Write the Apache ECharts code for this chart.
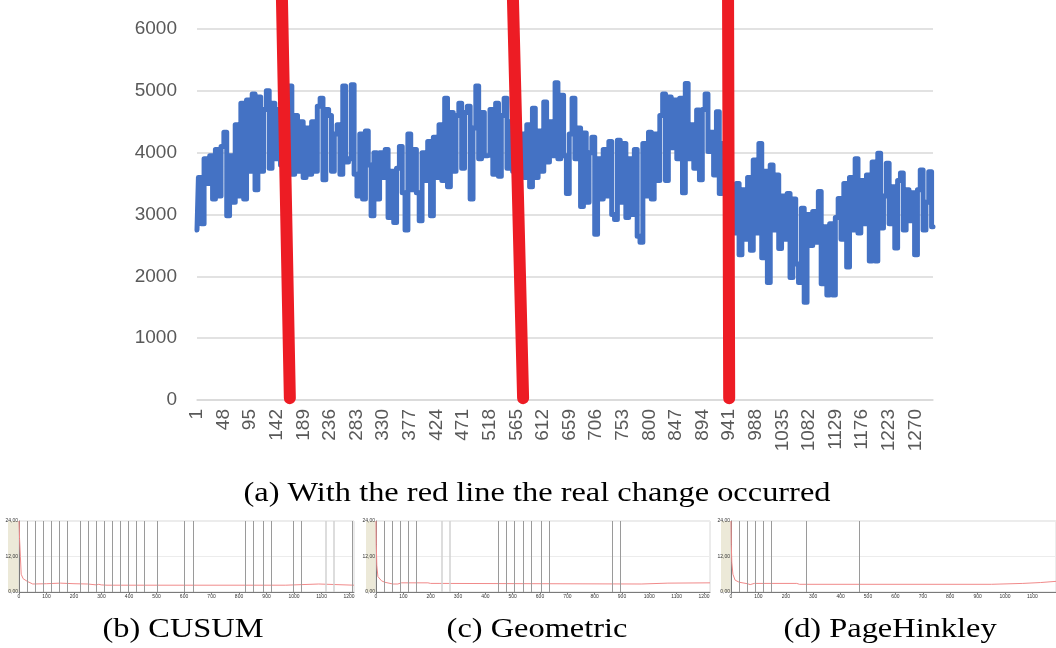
<!DOCTYPE html>
<html><head><meta charset="utf-8">
<script src="https://cdn.jsdelivr.net/npm/echarts@6/dist/echarts.min.js"></script>
<style>html,body{margin:0;padding:0;background:#fff}#c{width:1056px;height:648px}</style>
</head><body><div id="c"></div>
<script>
// ---------- data ----------
const pointCount = 1301;
const categories = [];
for (let i = 1; i <= pointCount; i++) categories.push(String(i));
const yTickValues = [0, 1000, 2000, 3000, 4000, 5000, 6000];

const blueStep = 5;
const blueValues = [
 2750,3600,2850,3900,3500,3950,3250,4050,3300,4100,
 4330,2980,3950,3200,4450,3300,4800,3250,4850,3700,
 4950,3400,4900,3700,4700,5000,3750,4800,3900,4700,
 3800,4600,3700,5080,3650,4600,3700,4500,3600,4400,
 3650,4500,3700,4750,4880,3560,4700,4600,3700,4300,
 4450,3650,5080,3850,3900,5100,3650,3300,4300,3250,
 4350,3800,2980,4000,3250,4000,3600,4050,2950,3700,
 2870,3750,4100,3350,2750,4300,3400,4050,3350,2900,
 4000,3550,4180,2980,4250,3600,4450,3550,4880,3450,
 4650,3700,4600,4800,3750,4650,4750,3250,4400,5080,
 3900,4650,3950,
 3960,4700,3650,4800,3620,4600,4880,3750,4500,3700,
 4400,3750,4300,3600,4450,3450,4720,3600,4350,3700,
 4820,3850,4500,3950,5130,3900,4930,3950,3340,4300,
 4880,3900,4400,3130,4320,3200,4000,4250,2680,3900,
 3250,4050,3300,4180,3000,2920,4200,3200,4150,2950,
 3900,3000,
 4050,2650,2550,4150,3300,4330,3250,4300,3550,4600,
 4950,3550,4900,4080,4850,3900,4880,3350,5120,3900,
 4450,3750,4690,3560,4700,4950,4020,4330,3640,4660,
 3340,4150,3500,3200,3400,2700,3500,2350,3400,2600,
 3600,2420,3880,2700,4150,2300,3700,1900,
 3800,2750,3640,2450,3300,2600,3340,1980,3250,2200,
 1900,3100,1580,3000,2500,3050,2550,3370,1880,2800,
 1700,2850,1700,2950,3260,2600,3500,2150,3600,2750,
 3900,2700,3550,2850,3640,2250,3850,2250,3990,2780,
 3300,3830,2850,3450,2460,3550,3670,2750,3400,2900,
 3350,2350,3400,3720,2750,3200,3690,2800
];

// red "real change" markers: [index at top, value at top, index at bottom, value at bottom]
const changeMarkers = [
 [150, 6500, 164, 30],
 [558, 6500, 576, 30],
 [938, 6500, 940, 30]
];

// detector panels
const cusumDetections = [29,58,87,116,145,176,222,251,281,311,340,369,398,427,455,502,600,633,821,850,889,918,996,1025,1212];
const cusumFaint = [1114,1143];
const cusumCurve = [[0,24],[2,18],[5,12],[8,6],[15,4.5],[30,3.6],[50,2.7],[100,2.8],[150,3.0],[200,2.8],[250,2.7],[252,2.3],[281,2.4],[290,2.6],[299,2.4],[320,2.3],[970,2.3],[975,2.7],[1090,2.7],[1095,2.3],[1218,2.3]];

const geometricDetections = [30,59,88,117,146,446,477,506,538,567,604,633,863,893];
const geometricFaint = [239,268];
const geometricCurve = [[0,24],[1,16],[3,9],[7,5.2],[20,3.8],[32,3.3],[62,2.7],[80,2.7],[93,3.1],[190,3.1],[200,2.9],[234,2.9],[236,2.7],[970,2.7],[972,3.0],[1068,3.0],[1070,3.1],[1222,3.1]];

const pageHinkleyDetections = [30,58,88,117,146,276,467];
const pageHinkleyCurve = [[0,24],[1,16],[3,10],[7,6],[15,4],[30,3.3],[60,2.8],[70,2.5],[85,2.9],[230,2.9],[235,2.6],[240,2.9],[250,2.6],[950,2.6],[955,2.9],[1065,2.9],[1070,3.2],[1130,3.2],[1135,3.5],[1186,3.6]];

const captions = ['(a) With the red line the real change occurred', '(b) CUSUM', '(c) Geometric', '(d) PageHinkley'];

// ---------- chart ----------
const blueData = blueValues.map((v, k) => [k * blueStep, v]);
const gray = '#595959';
const panels = [
  {left: 19, width: 335, max: 1218, ticksTo: 1200, det: cusumDetections, faint: cusumFaint, curve: cusumCurve, beige: 8},
  {left: 376, width: 334, max: 1222, ticksTo: 1200, det: geometricDetections, faint: geometricFaint, curve: geometricCurve, beige: 366},
  {left: 731, width: 325, max: 1186, ticksTo: 1100, det: pageHinkleyDetections, faint: [], curve: pageHinkleyCurve, beige: 721}
];

const grids = [{left: 197, right: 123, top: 29, bottom: 248}];
const xAxes = [{
  type: 'category', data: categories, boundaryGap: false, gridIndex: 0,
  axisLine: {lineStyle: {color: '#d9d9d9', width: 1.5}},
  axisTick: {show: false},
  axisLabel: {interval: 46, rotate: 90, color: gray, fontSize: 19, fontFamily: 'Liberation Sans', margin: 9}
}];
const yAxes = [{
  type: 'value', min: 0, max: 6000, interval: 1000, gridIndex: 0,
  axisLine: {show: false}, axisTick: {show: false},
  splitLine: {lineStyle: {color: '#d9d9d9', width: 1.5}},
  axisLabel: {color: gray, fontSize: 19, fontFamily: 'Liberation Sans', margin: 20, formatter: v => String(v)}
}];
const series = [{
  type: 'line', xAxisIndex: 0, yAxisIndex: 0, data: blueData, symbol: 'none', step: 'middle',
  lineStyle: {color: '#4472C4', width: 5, join: 'round', cap: 'round'}, z: 2, animation: false
}];
changeMarkers.forEach(m => {
  series.push({
    type: 'line', xAxisIndex: 0, yAxisIndex: 0, data: [[m[0], m[1]], [m[2], m[3]]],
    symbol: 'none', clip: false, z: 5, animation: false,
    lineStyle: {color: '#ED1C24', width: 12, cap: 'round'}
  });
});

const graphics = [];
panels.forEach((p, k) => {
  const gi = k + 1;
  grids.push({left: p.left, width: p.width, top: 521, height: 71, show: true, borderColor: '#d8d8d8', borderWidth: 1, backgroundColor: '#fff'});
  xAxes.push({
    type: 'value', gridIndex: gi, min: 0, max: p.max, interval: 100,
    axisLine: {lineStyle: {color: '#7a7a7a', width: 1}}, axisTick: {show: true, length: 2, lineStyle: {color: '#7a7a7a'}},
    splitLine: {show: false},
    axisLabel: {fontSize: 5, color: '#333', margin: 2, showMaxLabel: false,
      formatter: v => (v <= p.ticksTo ? String(v) : '')}
  });
  yAxes.push({
    type: 'value', gridIndex: gi, min: 0, max: 24, interval: 12,
    axisLine: {show: true, lineStyle: {color: '#7a7a7a', width: 1}}, axisTick: {show: false},
    splitLine: {lineStyle: {color: '#ececec', width: 1}},
    axisLabel: {fontSize: 5, color: '#333', margin: 1, formatter: v => v.toFixed(2).replace('.', ',')}
  });
  graphics.push({type: 'rect', shape: {x: p.beige, y: 521, width: p.left - p.beige, height: 71}, style: {fill: '#ECE9D8'}, z: -1});
  const ml = p.det.map(x => ({xAxis: x, lineStyle: {color: '#9a9a9a', width: 1, type: 'solid'}}))
    .concat(p.faint.map(x => ({xAxis: x, lineStyle: {color: '#d2d2d2', width: 1.5, type: 'solid'}})));
  series.push({
    type: 'line', xAxisIndex: gi, yAxisIndex: gi, data: p.curve, symbol: 'none', animation: false,
    lineStyle: {color: '#f08a8a', width: 1},
    markLine: {silent: true, symbol: 'none', label: {show: false}, animation: false, data: ml}
  });
});

const capFont = '27px "Liberation Serif", serif';
const capPos = [[537, 494], [183, 630], [537, 630], [890, 630]];
captions.forEach((t, i) => {
  graphics.push({type: 'text', x: capPos[i][0], y: capPos[i][1], scaleX: 1.2,
    style: {text: t, font: capFont, fill: '#000', align: 'center', verticalAlign: 'middle'}});
});

const chart = echarts.init(document.getElementById('c'), null, {renderer: 'canvas'});
chart.setOption({
  animation: false,
  backgroundColor: '#fff',
  grid: grids, xAxis: xAxes, yAxis: yAxes, series: series, graphic: graphics
});
</script></body></html>
